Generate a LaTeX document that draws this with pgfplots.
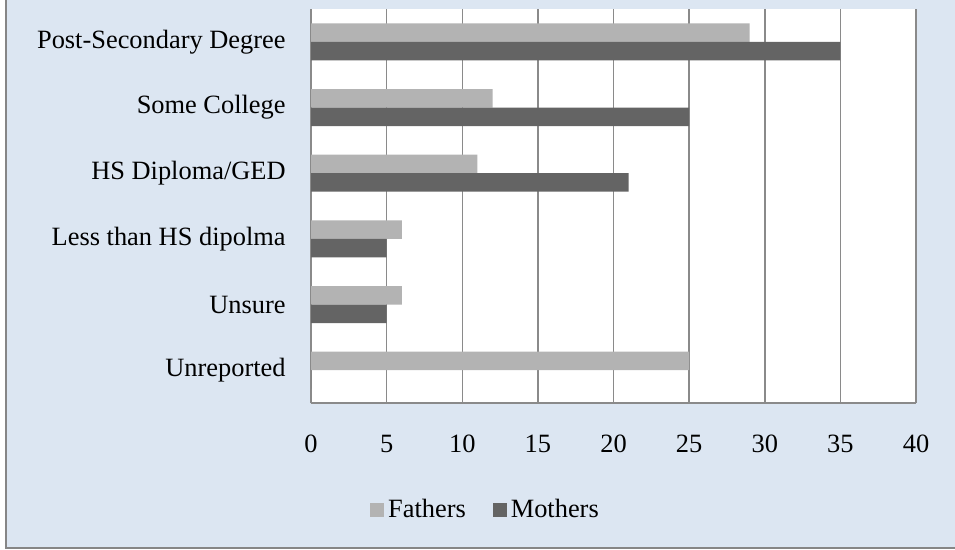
\documentclass[border=0pt]{standalone}
\usepackage{fontspec}
\setmainfont{Liberation Serif}
\usepackage{pgfplots}
\pgfplotsset{compat=1.18}
\definecolor{bgblue}{HTML}{DCE6F2}
\definecolor{fathers}{HTML}{B3B3B3}
\definecolor{mothers}{HTML}{646464}
\definecolor{gridgray}{HTML}{8A8A8A}
\definecolor{framegray}{HTML}{868686}
\begin{document}
\begin{tikzpicture}
\useasboundingbox (0,0) rectangle (477.5bp,275bp);
\fill[white] (0,0) rectangle (477.5bp,275bp);
\fill[bgblue] (3bp,1bp) rectangle (477.5bp,275bp);
\draw[framegray, line width=0.8bp] (3bp,276bp) -- (3bp,1bp) -- (478bp,1bp);
\begin{axis}[
  at={(155.5bp,73.5bp)}, anchor=south west,
  scale only axis, width=302.5bp, height=197bp,
  xbar, bar width=9.25bp,
  xmin=0, xmax=40, ymin=-0.5, ymax=5.5,
  xtick={0,5,...,40},
  ytick={0,1,2,3,4,5},
  yticklabels={Unreported,Unsure,Less than HS dipolma,HS Diploma/GED,Some College,Post-Secondary Degree},
  axis x line*=bottom, axis y line*=left,
  axis line style={gridgray, line width=0.75bp, -},
  major tick length=0pt,
  xmajorgrids, major grid style={gridgray, line width=0.75bp},
  axis background/.style={fill=white},
  /pgf/number format/assume math mode=true,
  tick label style={font=\fontsize{13.2bp}{15bp}\selectfont},
  xticklabel style={anchor=center, yshift=-20.5bp, inner sep=0pt},
  yticklabel style={anchor=east, xshift=-12.5bp, inner sep=0pt},
  legend columns=2,
  legend style={at={(0.290,-0.2716)}, anchor=center, draw=none, fill=none,
    font=\fontsize{13.2bp}{15bp}\selectfont, inner sep=0pt,
    /tikz/every even column/.append style={column sep=11.5bp}},
  legend image code/.code={\fill (0bp,-3.5bp) rectangle (7bp,3.5bp);},
  legend cell align=left,
]
\addplot[fill=fathers, draw=none, bar shift=4.625bp] coordinates {(25,0) (6,1) (6,2) (11,3) (12,4) (29,5)};
\addplot[fill=mothers, draw=none, bar shift=-4.625bp] coordinates {(0,0) (5,1) (5,2) (21,3) (25,4) (35,5)};
\legend{Fathers,Mothers}
\end{axis}
\end{tikzpicture}
\end{document}
